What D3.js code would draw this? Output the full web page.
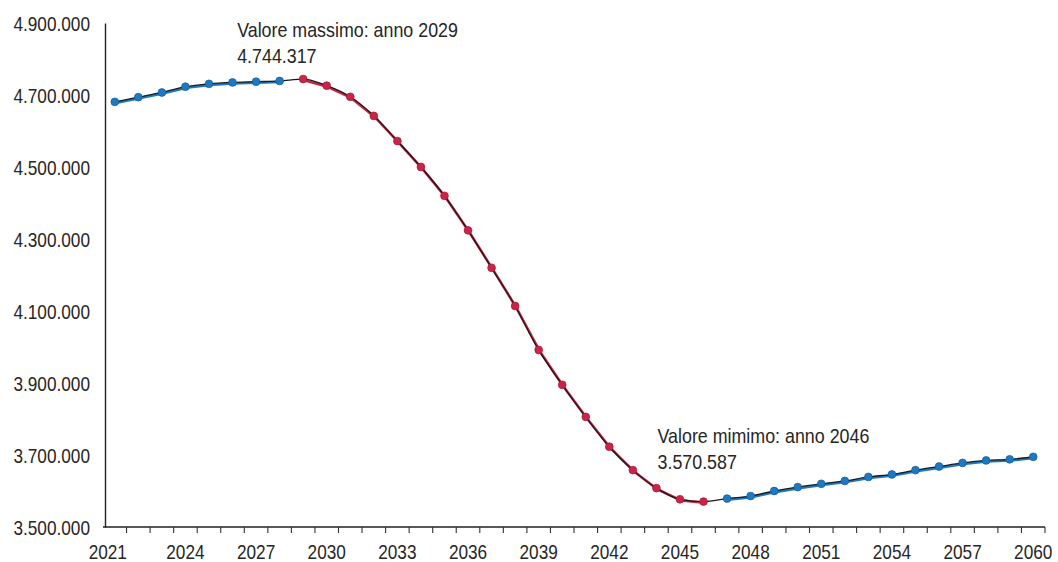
<!DOCTYPE html>
<html>
<head>
<meta charset="utf-8">
<script src="https://cdn.jsdelivr.net/npm/d3@7"></script>
<style>
  html, body { margin: 0; padding: 0; background: #fff; }
  svg { display: block; }
  text { font-family: "Liberation Sans", Arial, sans-serif; fill: #262626; }
</style>
</head>
<body>
<svg id="chart" width="1058" height="562"></svg>
<script>
// ---- data ----
const years = [2021,2022,2023,2024,2025,2026,2027,2028,2029,2030,
               2031,2032,2033,2034,2035,2036,2037,2038,2039,2040,
               2041,2042,2043,2044,2045,2046,2047,2048,2049,2050,
               2051,2052,2053,2054,2055,2056,2057,2058,2059,2060];
const population = [4681000,4694000,4707000,4723000,4731000,4735000,4737000,4739000,4744317,4726000,
                    4695000,4642000,4572000,4500000,4420000,4324000,4220000,4114000,3992000,3895000,
                    3806000,3723000,3658000,3608000,3577000,3570587,3579000,3586000,3600000,3611000,
                    3620000,3628000,3639000,3646000,3658000,3668000,3678000,3685000,3688000,3695000];
// phase: "up" = blue, "down" = red
const phase = ["up","up","up","up","up","up","up","up","down","down",
               "down","down","down","down","down","down","down","down","down","down",
               "down","down","down","down","down","down","up","up","up","up",
               "up","up","up","up","up","up","up","up","up","up"];
const yTicks = [3500000,3700000,3900000,4100000,4300000,4500000,4700000,4900000];
const xTickLabels = ["2021","2024","2027","2030","2033","2036","2039","2042","2045","2048","2051","2054","2057","2060"];
const maxLabel = ["Valore massimo: anno 2029", "4.744.317"];
const minLabel = ["Valore mimimo: anno 2046", "3.570.587"];
const maxYear = 2029, minYear = 2046;

// ---- setup ----
const colors = { up: "#1e79c2", down: "#cc2446" };
const locale = d3.formatLocale({decimal: ",", thousands: ".", grouping: [3], currency: ["€", ""]});
const fmt = locale.format(",d");
const SX = 0.82; // condensed look

const svg = d3.select("#chart");
const x = d3.scaleBand().domain(years.map(String)).range([103, 1045]).paddingInner(0).paddingOuter(0);
const cx = yr => x(String(yr)) + x.bandwidth() / 2;
const y = d3.scaleLinear().domain([3500000, 4900000]).range([527, 23]);

// y axis
const yAxis = svg.append("g").attr("transform", "translate(105,0)")
  .call(d3.axisLeft(y).tickValues(yTicks).tickFormat(fmt).tickSize(0).tickPadding(15));
yAxis.select(".domain").attr("stroke", "#222").attr("stroke-width", 1.4);
yAxis.selectAll("text")
  .attr("x", null)
  .attr("transform", `translate(-15,0) scale(${SX},1)`)
  .style("font-size", "21px").attr("fill", "#2b2b2b").attr("dy", "0.36em");

// x axis: ticks at category boundaries
const xg = svg.append("g").attr("transform", "translate(0,527)");
xg.append("line").attr("x1", 103).attr("x2", 1045).attr("y1", 0).attr("y2", 0)
  .attr("stroke", "#222").attr("stroke-width", 1.4);
xg.selectAll("line.tick").data(years).enter().append("line").attr("class", "tick")
  .attr("x1", d => x(String(d)) + x.bandwidth()).attr("x2", d => x(String(d)) + x.bandwidth())
  .attr("y1", 0).attr("y2", 6).attr("stroke", "#333").attr("stroke-width", 1.1);
xg.selectAll("text").data(xTickLabels).enter().append("text")
  .attr("transform", (d, i) => `translate(${cx(+d) - (i === 0 ? 7 : 0)},32) scale(${SX},1)`)
  .attr("text-anchor", "middle").style("font-size", "21px").attr("fill", "#2b2b2b")
  .text(d => d);

// data points
const pts = years.map((yr, i) => ({ yr, v: population[i], p: phase[i] }));

// colored segments (same phase)
const segs = [];
for (let i = 0; i < pts.length - 1; i++) {
  if (pts[i].p === pts[i + 1].p) segs.push([pts[i], pts[i + 1]]);
}
svg.append("g").selectAll("line").data(segs).enter().append("line")
  .attr("x1", d => cx(d[0].yr) + 0.9).attr("y1", d => y(d[0].v) + 1.1)
  .attr("x2", d => cx(d[1].yr) + 0.9).attr("y2", d => y(d[1].v) + 1.1)
  .attr("stroke", d => colors[d[0].p]).attr("stroke-width", 2.6);

// black line
const line = d3.line().x(d => cx(d.yr)).y(d => y(d.v)).curve(d3.curveMonotoneX);
svg.append("path").datum(pts).attr("d", line)
  .attr("fill", "none").attr("stroke", "#1a1a1a").attr("stroke-width", 1.3);

// markers
svg.append("g").selectAll("circle").data(pts).enter().append("circle")
  .attr("cx", d => cx(d.yr)).attr("cy", d => y(d.v)).attr("r", 3.9)
  .attr("fill", d => colors[d.p])
  .attr("stroke", d => d3.color(colors[d.p]).darker(0.8)).attr("stroke-width", 0.7);

// annotations
function annotate(lines, yr, val, dx, dy) {
  const g = svg.append("g").attr("transform", `translate(${cx(yr) + dx},${y(val) + dy})`);
  const t = g.append("text").attr("transform", `scale(0.85,1)`)
    .style("font-size", "21px").attr("fill", "#2b2b2b");
  lines.forEach((s, i) => t.append("tspan").attr("x", 0).attr("dy", i === 0 ? 0 : 26).text(s));
}
annotate(maxLabel, maxYear, population[years.indexOf(maxYear)], -66, -42);
annotate(minLabel, minYear, population[years.indexOf(minYear)], -46, -59);
</script>
</body>
</html>
